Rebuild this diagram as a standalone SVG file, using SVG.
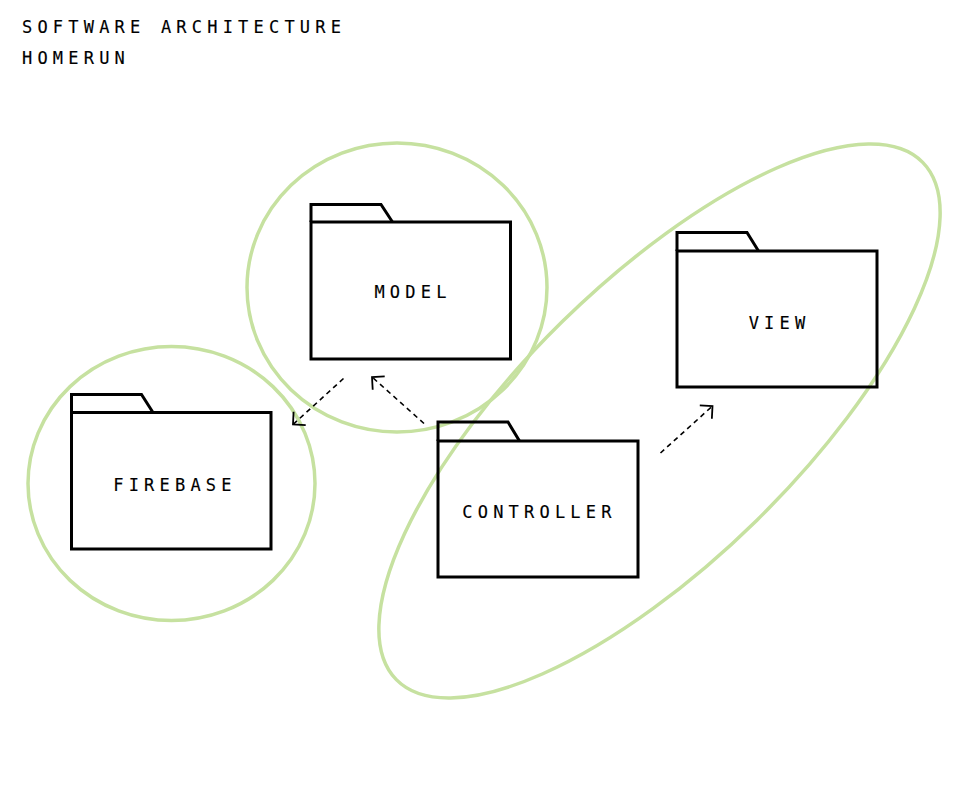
<svg xmlns="http://www.w3.org/2000/svg" width="960" height="798" viewBox="0 0 960 798">
  <style>
    .bg { fill: #ffffff; }
    .group { fill: none; stroke: #c6e1a0; stroke-width: 3.5; }
    .folder path { fill: none; stroke: #000000; stroke-width: 3; stroke-linejoin: miter; }
    .label { font-family: "DejaVu Sans Mono", "Liberation Mono", monospace; font-size: 17px; letter-spacing: 5.2px; fill: #000000; stroke: #000000; stroke-width: 0.15; text-anchor: middle; }
    .title { font-family: "DejaVu Sans Mono", "Liberation Mono", monospace; font-size: 17px; letter-spacing: 5.2px; fill: #000000; stroke: #000000; stroke-width: 0.15; }
    .dep { fill: none; stroke: #000000; stroke-width: 1.6; stroke-dasharray: 5 4; }
  </style>
  <defs>
    <marker id="open" markerUnits="userSpaceOnUse" markerWidth="16" markerHeight="20" viewBox="0 -10 16 20" refX="12" refY="0" orient="auto">
      <path d="M3,-9 L12,0 L3,9" fill="none" stroke="#000000" stroke-width="1.8"/>
    </marker>
  </defs>
  <rect class="bg" x="0" y="0" width="960" height="798"/>

  <g id="title">
    <text class="title" x="22" y="33">SOFTWARE ARCHITECTURE</text>
    <text class="title" x="22" y="64">HOMERUN</text>
  </g>

  <g id="groups">
    <ellipse id="group-firebase" class="group" cx="171.5" cy="483.5" rx="143.5" ry="137"/>
    <ellipse id="group-model" class="group" cx="397" cy="287.5" rx="150" ry="144.5"/>
    <ellipse id="group-view-controller" class="group" cx="0" cy="0" rx="369" ry="139" transform="translate(659.5 421) rotate(-44.5)"/>
  </g>

  <g id="connectors">
    <line class="dep" x1="343.5" y1="378.5" x2="293" y2="424.5" marker-end="url(#open)"/>
    <line class="dep" x1="424" y1="423.5" x2="372" y2="377" marker-end="url(#open)"/>
    <line class="dep" x1="660.5" y1="453" x2="712.5" y2="406" marker-end="url(#open)"/>
  </g>

  <g id="model" class="folder">
    <path d="M311,222 V204.5 H381 L392.5,222"/>
    <path d="M311,222 H510.5 V359 H311 Z"/>
    <text class="label" x="413" y="298">MODEL</text>
  </g>

  <g id="firebase" class="folder">
    <path d="M71.5,412.5 V394.5 H141.5 L153,412.5"/>
    <path d="M71.5,412.5 H271 V549 H71.5 Z"/>
    <text class="label" x="175" y="490.5">FIREBASE</text>
  </g>

  <g id="view" class="folder">
    <path d="M677,251 V232.5 H747 L758.5,251"/>
    <path d="M677,251 H877 V387 H677 Z"/>
    <text class="label" x="779.5" y="329">VIEW</text>
  </g>

  <g id="controller" class="folder">
    <path d="M438,441 V422 H508 L519.5,441"/>
    <path d="M438,441 H638 V577 H438 Z"/>
    <text class="label" x="539.5" y="517.5">CONTROLLER</text>
  </g>
</svg>
